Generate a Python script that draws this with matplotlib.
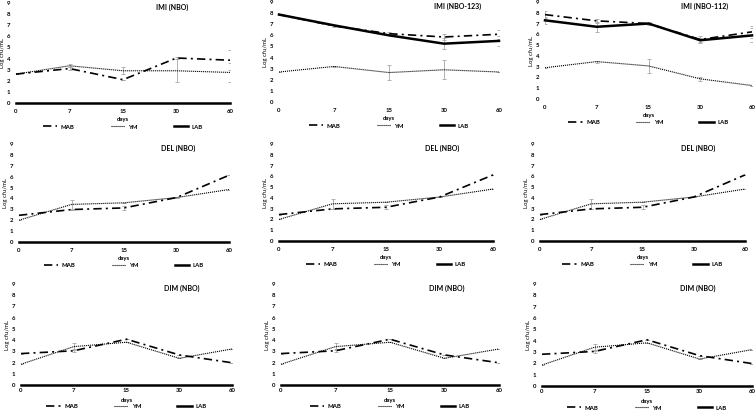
import numpy as np
import matplotlib.pyplot as plt
from matplotlib.lines import Line2D

plt.rcParams['font.family'] = ['Lato', 'DejaVu Sans']
plt.rcParams['font.weight'] = 'bold'

# sampling days (category axis)
days = ['0', '7', '15', '30', '60']

# IMI (NBO)
imi_nbo_mab = [2.6, 3.1, 2.1, 4.05, 3.85]
imi_nbo_mab_err = [0, 0.1, 0, 0.1, 0.9]
imi_nbo_ym = [2.6, 3.35, 2.9, 2.9, 2.75]
imi_nbo_ym_err = [0, 0.15, 0.3, 1.05, 0.85]
imi_nbo_lab = [0, 0, 0, 0, 0]
imi_nbo_lab_err = [0, 0, 0, 0, 0]

# IMI (NBO-123)
imi_123_mab = [7.87, 6.85, 6.15, 5.85, 6.1]
imi_123_mab_err = [0, 0.1, 0.15, 0.3, 0.4]
imi_123_ym = [2.7, 3.2, 2.65, 2.9, 2.7]
imi_123_ym_err = [0, 0.05, 0.7, 0.85, 0]
imi_123_lab = [7.87, 6.9, 6.0, 5.25, 5.5]
imi_123_lab_err = [0, 0, 0, 0.5, 0.45]

# IMI (NBO-112)
imi_112_mab = [7.83, 7.25, 7.0, 5.52, 6.23]
imi_112_mab_err = [0.35, 0.2, 0.1, 0.3, 0.55]
imi_112_ym = [2.9, 3.47, 3.07, 1.87, 1.25]
imi_112_ym_err = [0, 0.1, 0.65, 0.2, 0]
imi_112_lab = [7.3, 6.7, 7.0, 5.45, 5.9]
imi_112_lab_err = [0.3, 0.45, 0.1, 0.2, 0.65]

# DEL (NBO)
del_mab = [2.45, 2.98, 3.13, 4.08, 6.13]
del_mab_err = [0, 0, 0.2, 0, 0]
del_ym = [2.0, 3.45, 3.6, 4.08, 4.82]
del_ym_err = [0, 0.45, 0, 0, 0]
del_lab = [0, 0, 0, 0, 0]
del_lab_err = [0, 0, 0, 0, 0]

# DIM (NBO)
dim_mab = [2.8, 3.05, 4.08, 2.68, 1.98]
dim_mab_err = [0, 0.15, 0, 0, 0]
dim_ym = [1.85, 3.42, 3.81, 2.38, 3.21]
dim_ym_err = [0, 0.3, 0, 0, 0]
dim_lab = [0, 0, 0, 0, 0]
dim_lab_err = [0, 0, 0, 0, 0]

W, H = 756, 411

# (title, data, left px, right px, top px (y=9), bottom px (y=0), title x frac, row)
panels = [
    ('IMI (NBO)', (imi_nbo_mab, imi_nbo_mab_err, imi_nbo_ym, imi_nbo_ym_err, imi_nbo_lab, imi_nbo_lab_err), 16, 230, 3, 103, 0.73, 0),
    ('IMI (NBO-123)', (imi_123_mab, imi_123_mab_err, imi_123_ym, imi_123_ym_err, imi_123_lab, imi_123_lab_err), 279, 499, 2, 102, 0.81, 0),
    ('IMI (NBO-112)', (imi_112_mab, imi_112_mab_err, imi_112_ym, imi_112_ym_err, imi_112_lab, imi_112_lab_err), 545, 752, 2, 99, 0.77, 0),
    ('DEL (NBO)', (del_mab, del_mab_err, del_ym, del_ym_err, del_lab, del_lab_err), 19, 229, 144, 242, 0.76, 1),
    ('DEL (NBO)', (del_mab, del_mab_err, del_ym, del_ym_err, del_lab, del_lab_err), 279, 493, 144, 241, 0.76, 1),
    ('DEL (NBO)', (del_mab, del_mab_err, del_ym, del_ym_err, del_lab, del_lab_err), 540, 745, 144, 241, 0.77, 1),
    ('DIM (NBO)', (dim_mab, dim_mab_err, dim_ym, dim_ym_err, dim_lab, dim_lab_err), 21, 232, 284, 385, 0.76, 2),
    ('DIM (NBO)', (dim_mab, dim_mab_err, dim_ym, dim_ym_err, dim_lab, dim_lab_err), 281, 499, 284, 385, 0.76, 2),
    ('DIM (NBO)', (dim_mab, dim_mab_err, dim_ym, dim_ym_err, dim_lab, dim_lab_err), 542, 752, 284, 386, 0.74, 2),
]

# per row: tick pad, "days" y, legend y (axes fraction)
row_layout = {0: (4, -0.165, -0.24), 1: (4, -0.165, -0.24), 2: (2.5, -0.15, -0.215)}

mab_style = dict(color='black', lw=1.2, ls=(0, (5, 2.5, 1.2, 2.5)))
ym_style = dict(color='black', lw=0.8, ls=(0, (1, 0.8)))
lab_style = dict(color='black', lw=1.8, ls='-')
err_style = dict(fmt='none', ecolor='#a6a6a6', elinewidth=0.6, capsize=1.5, capthick=0.6)

fig = plt.figure(figsize=(W / 100, H / 100), dpi=100)

for title, data, x0, x1, y9, y0, tx, row in panels:
    mab, mab_err, ym, ym_err, lab, lab_err = data
    pad, dy, ly = row_layout[row]
    ax = fig.add_axes([x0 / W, 1 - y0 / H, (x1 - x0) / W, (y0 - y9) / H])
    x = np.arange(len(days))

    ax.errorbar(x, mab, yerr=mab_err, **err_style)
    ax.errorbar(x, ym, yerr=ym_err, **err_style)
    ax.errorbar(x, lab, yerr=lab_err, **err_style)
    ax.plot(x, mab, clip_on=False, **mab_style)
    ax.plot(x, ym, clip_on=False, **ym_style)
    ax.plot(x, lab, clip_on=False, **lab_style)

    ax.set_xlim(0, 4)
    ax.set_ylim(0, 9)
    ax.set_yticks(range(10))
    ax.set_xticks(x)
    ax.set_xticklabels(days)
    ax.tick_params(length=0, labelsize=4.3, pad=4)
    ax.tick_params(axis='x', pad=pad)
    for s in ax.spines.values():
        s.set_visible(False)
    ax.patch.set_alpha(0)

    ax.set_ylabel('Log cfu/mL', fontsize=4.3, labelpad=1.5)
    ax.text(0.5, dy, 'days', transform=ax.transAxes, ha='center', va='center', fontsize=4.3)
    ax.text(tx, 0.955, title, transform=ax.transAxes, ha='center', va='center', fontsize=5)

    handles = [Line2D([], [], **mab_style), Line2D([], [], **ym_style), Line2D([], [], **lab_style)]
    ax.legend(handles, ['MAB', 'YM', 'LAB'], loc='center', bbox_to_anchor=(0.5, ly),
              ncol=3, frameon=False, fontsize=4.3, handlelength=2.4, handletextpad=0.6,
              columnspacing=6.0)

fig.savefig('out.png', dpi=100)
